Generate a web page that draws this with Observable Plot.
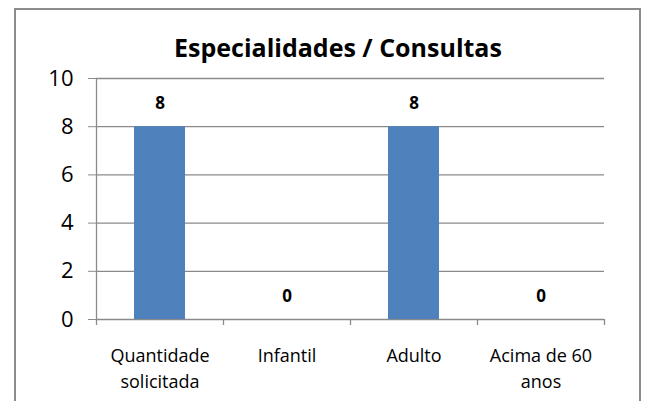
<!DOCTYPE html>
<html>
<head>
<meta charset="utf-8">
<script src="https://cdn.jsdelivr.net/npm/d3@7"></script>
<script src="https://cdn.jsdelivr.net/npm/@observablehq/plot@0.6"></script>
<style>
  html, body { margin: 0; padding: 0; background: #fff; }
  #wrap { position: relative; width: 652px; height: 401px; overflow: hidden; font-family: "Open Sans", Lato, sans-serif; }
  #border { position: absolute; left: 14px; top: 8px; width: 627px; height: 420px; border: 2px solid #8c8c8c; box-sizing: border-box; }
  #title { position: absolute; left: 14px; width: 648px; top: 31px; text-align: center; font-weight: bold; font-size: 25px; line-height: 32px; color: #000; }
  #chart { position: absolute; left: 0; top: 0; }
</style>
</head>
<body>
<div id="wrap">
  <div id="border"></div>
  <div id="chart"></div>
  <div id="title">Especialidades / Consultas</div>
</div>
<script>
const categories = ["Quantidade solicitada", "Infantil", "Adulto", "Acima de 60 anos"];
const tickLabels = ["Quantidade\nsolicitada", "Infantil", "Adulto", "Acima de 60\nanos"];
const values = [8, 0, 8, 0];
const yTicks = [0, 2, 4, 6, 8, 10];

const data = categories.map((c, i) => ({category: c, value: values[i]}));
const labelOf = new Map(categories.map((c, i) => [c, tickLabels[i]]));
const last = categories[categories.length - 1];

const chart = Plot.plot({
  width: 652,
  height: 401,
  marginLeft: 96,
  marginRight: 48,
  marginTop: 78,
  marginBottom: 82,
  style: {fontFamily: "'Open Sans', Lato, sans-serif", color: "#000", background: "transparent"},
  x: {type: "band", domain: categories, padding: 0},
  y: {domain: [0, 10]},
  marks: [
    Plot.ruleY(yTicks, {stroke: "#8a8a8a", strokeWidth: 1.3}),
    Plot.barY(data, {x: "category", y: "value", fill: "#4F81BD", insetLeft: 38, insetRight: 38}),
    Plot.ruleX(categories, {x: d => d, y1: 0, y2: 0, insetBottom: -6, dx: -63.5, stroke: "#8a8a8a", strokeWidth: 1.3}),
    Plot.ruleX([last], {x: d => d, y1: 0, y2: 0, insetBottom: -6, dx: 63.5, stroke: "#8a8a8a", strokeWidth: 1.3}),
    Plot.ruleX([categories[0]], {x: d => d, y1: 0, y2: 10, dx: -63.5, stroke: "#8a8a8a", strokeWidth: 1.3}),
    Plot.axisY({ticks: yTicks, tickSize: 8, tickPadding: 15, fontSize: 22, stroke: "#8a8a8a", tickFormat: d => d, label: null}),
    Plot.axisX({tickSize: 0, tickPadding: 25, fontSize: 18, lineHeight: 1.4, tickFormat: d => labelOf.get(d), label: null}),
    Plot.text(data, {x: "category", y: "value", text: d => String(d.value), dy: -23, fontWeight: "bold", fontSize: 17, fill: "#000"})
  ]
});
document.getElementById("chart").appendChild(chart);
</script>
</body>
</html>
